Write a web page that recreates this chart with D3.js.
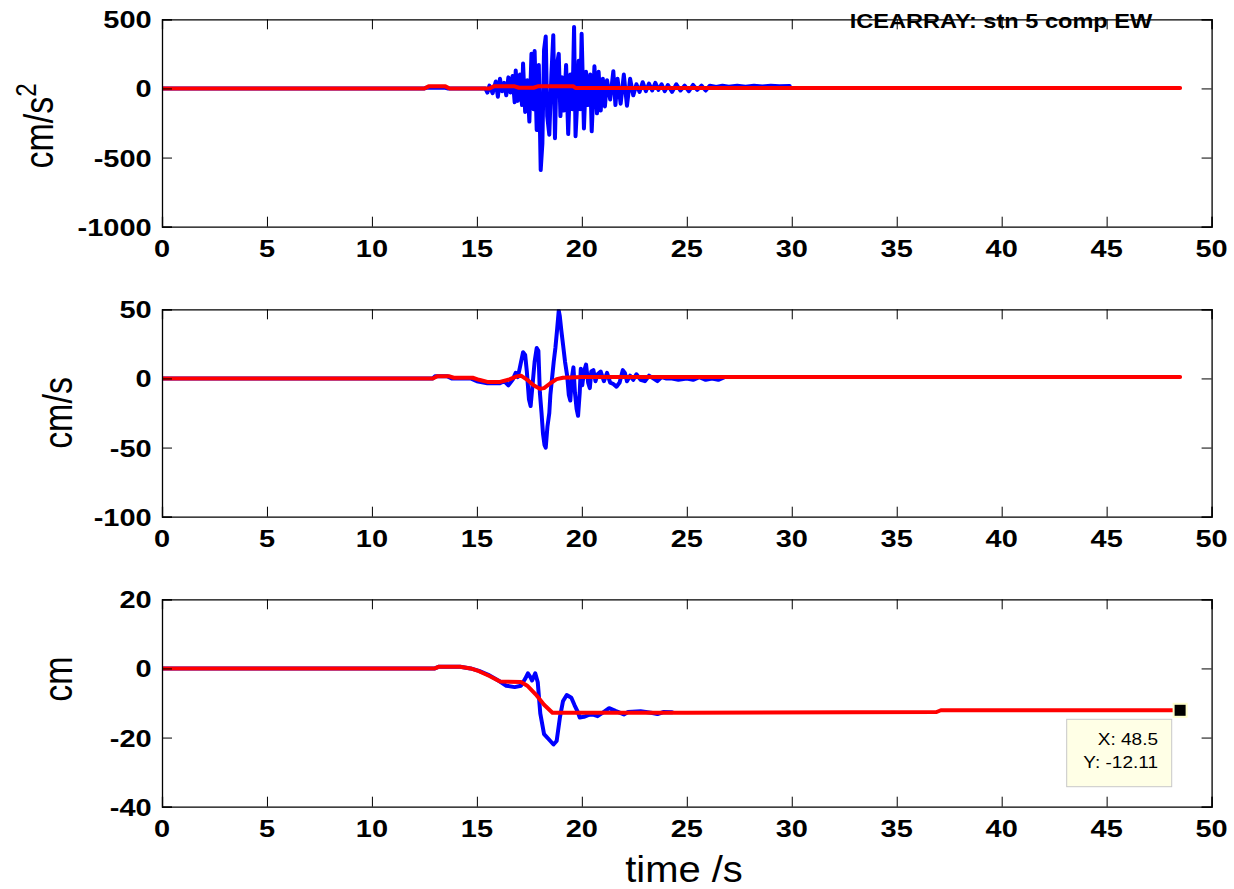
<!DOCTYPE html>
<html>
<head>
<meta charset="utf-8">
<script src="https://cdn.jsdelivr.net/npm/d3@7"></script>
<style>
  body { margin: 0; background: #ffffff; }
  svg { display: block; font-family: "Liberation Sans", Arial, sans-serif; }
</style>
</head>
<body>
<svg id="chart" width="1234" height="889"></svg>
<script>

//*************************************************//
// Data (time in s)
//*************************************************//

var timeTicks = [0, 5, 10, 15, 20, 25, 30, 35, 40, 45, 50];

// Acceleration, cm/s^2
var accTicks = [-1000, -500, 0, 500];
var accRaw = [[0,0],[12.5,0],[12.6,5],[13.5,5],[13.6,0],[15.4,0],
  [15.5,-30],[15.6,20],[15.75,-35],[15.9,50],[16.0,-60],[16.1,70],[16.2,-20],[16.3,40],[16.4,-50],
  [16.5,80],[16.6,-30],[16.7,90],[16.8,-100],[16.85,130],[16.95,-90],[17.05,100],[17.15,-120],
  [17.2,180],[17.3,-170],[17.4,60],[17.5,-240],[17.6,250],[17.7,-150],[17.75,270],[17.85,-300],
  [17.95,170],[18.04,-590],[18.12,-400],[18.2,280],[18.28,375],[18.35,-200],[18.45,-335],[18.55,100],
  [18.64,385],[18.72,-360],[18.8,160],[18.9,250],[18.98,-200],[19.05,80],[19.15,-160],[19.25,170],
  [19.35,-330],[19.45,100],[19.55,-150],[19.63,445],[19.7,-345],[19.78,-100],[19.85,200],[19.92,-150],
  [19.99,395],[20.1,-290],[20.2,120],[20.3,-120],[20.4,100],[20.47,-310],[20.6,160],[20.72,-180],
  [20.8,120],[20.9,-160],[21.0,70],[21.1,-130],[21.2,60],[21.35,-80],[21.5,125],[21.6,-120],[21.7,70],
  [21.85,-110],[22.0,100],[22.15,-125],[22.3,70],[22.45,-50],[22.6,30],[22.75,-25],[22.9,45],
  [23.05,-20],[23.2,35],[23.35,-15],[23.5,40],[23.65,-10],[23.8,30],[23.95,-20],[24.1,25],[24.3,-25],
  [24.5,30],[24.7,-15],[24.9,20],[25.1,-20],[25.3,25],[25.5,-10],[25.7,20],[25.9,-15],[26.1,20],
  [26.4,10],[26.7,20],[27.0,12],[27.4,20],[27.8,12],[28.2,20],[28.6,14],[29.0,20],[29.4,15],[29.9,18]];
var accFilt = [[0,0],[12.5,0],[12.7,15],[13.5,15],[13.7,0],[15.6,0],[15.8,15],[16.8,15],[17.0,5],
  [17.7,5],[17.9,15],[19.6,15],[19.7,3],[48.5,3]];

// Velocity, cm/s
var velTicks = [-100, -50, 0, 50];
var velRaw = [[0,0],[12.9,0],[13.0,1.5],[13.6,1.5],[13.8,0],[14.7,0],[15.0,-2],[15.5,-3.5],[16.1,-3.5],
  [16.3,-2],[16.5,-5],[16.7,-1],[16.85,4],[16.95,1],[17.05,8],[17.2,19],[17.3,17],[17.38,5],[17.48,-15],
  [17.56,-20],[17.65,-5],[17.75,12],[17.85,22],[17.93,20],[18.0,-10],[18.08,-25],[18.15,-40],[18.22,-48],
  [18.28,-50],[18.36,-35],[18.45,-25],[18.5,-12],[18.58,0],[18.66,12],[18.74,22],[18.82,35],[18.9,49],
  [18.95,45],[19.02,35],[19.1,25],[19.2,12],[19.3,2],[19.38,-12],[19.45,-16],[19.52,0],[19.6,8],
  [19.67,-10],[19.75,-22],[19.82,-27],[19.9,-10],[19.95,7],[20.02,-5],[20.1,5],[20.2,10],[20.3,-3],
  [20.38,-7],[20.45,5],[20.55,6],[20.65,-2],[20.75,3],[20.9,5],[21.05,-2],[21.2,4],[21.35,-3],[21.5,-4],
  [21.65,-6],[21.8,-3],[21.95,6],[22.05,4],[22.15,-2],[22.3,2],[22.45,-1],[22.6,3],[22.8,-1],[23.0,-2],
  [23.2,2],[23.4,0],[23.6,-2],[23.8,1],[24.0,0],[24.3,0],[24.6,-1],[25.0,0],[25.3,-1],[25.6,1],
  [25.9,-1],[26.2,0],[26.5,-1],[26.8,1]];
var velFilt = [[0,0],[12.9,0],[13.1,1.5],[13.7,1.5],[13.9,0.5],[14.8,0.5],[15.1,-1],[15.5,-2.5],
  [16.1,-2.5],[16.5,-1],[16.9,1.5],[17.1,2],[17.4,-1],[17.7,-5],[18.0,-7.5],[18.2,-7],[18.5,-3.5],
  [18.8,-0.5],[19.1,0.5],[20,1],[48.5,1]];

// Displacement, cm
var dispTicks = [-40, -20, 0, 20];
var dispRaw = [[0,0],[13.0,0],[13.2,0.5],[14.2,0.5],[14.7,0],[15.1,-0.7],[15.6,-2],[16.1,-3.8],
  [16.4,-5],[16.8,-5.4],[17.1,-5],[17.3,-3],[17.43,-1.4],[17.55,-2.5],[17.63,-3.5],[17.78,-1.4],
  [17.9,-4],[18.02,-13],[18.2,-19],[18.5,-21],[18.65,-22],[18.8,-21],[18.96,-14],[19.1,-9.5],
  [19.28,-7.7],[19.5,-8.5],[19.65,-10.6],[19.8,-12.5],[19.9,-14.2],[20.1,-14],[20.3,-13.5],[20.5,-13.3],
  [20.75,-13.8],[21.0,-12.8],[21.3,-11.5],[21.6,-12.3],[22.0,-13.3],[22.2,-12.6],[22.8,-12.4],
  [23.3,-12.8],[23.6,-13.2],[23.9,-12.6],[24.3,-12.7]];
var dispFilt = [[0,0],[13.0,0],[13.2,0.5],[14.2,0.5],[14.7,0],[15.1,-0.8],[15.6,-2.2],[16.1,-3.8],
  [17.1,-3.9],[17.4,-5],[17.8,-7.5],[18.2,-10.5],[18.6,-12.8],[25,-12.8],[36.9,-12.6],[37.1,-12.1],
  [48.5,-12.11]];

// Data tip on the last displacement sample
var tipX = 48.5;
var tipY = -12.11;

var titleText = "ICEARRAY: stn 5 comp EW";


//*************************************************//
// Layout
//*************************************************//

var svg = d3.select('#chart');

var plotLeft = 162, plotRight = 1211.6, plotHeight = 207.4;
var tickLen = 10;

var panels = [
    { top: 19.3,  ticks: accTicks,  raw: accRaw,  filt: accFilt,  unit: 'cm/s', sup: '2', labelX: 53, labelY: 126 },
    { top: 309.3, ticks: velTicks,  raw: velRaw,  filt: velFilt,  unit: 'cm/s', sup: '',  labelX: 72, labelY: 413 },
    { top: 599.3, ticks: dispTicks, raw: dispRaw, filt: dispFilt, unit: 'cm',   sup: '',  labelX: 72, labelY: 679 }
];

var xScale = d3.scaleLinear().domain([0, 50]).range([plotLeft, plotRight]);

// Title is drawn first: the box edge runs through it
svg.append('text')
    .attr('transform', 'translate(1001,28.3) scale(1.21,1)')
    .attr('text-anchor', 'middle')
    .attr('font-size', '19.5px')
    .attr('font-weight', 'bold')
    .text(titleText);

panels.forEach(function(p, k) {

    var yScale = d3.scaleLinear()
        .domain([p.ticks[0], p.ticks[p.ticks.length - 1]])
        .range([p.top + plotHeight, p.top]);

    var bottom = p.top + plotHeight;

    /*****************************/
    // Lines
    /*****************************/

    svg.append('clipPath').attr('id', 'clip' + k)
      .append('rect')
        .attr('x', plotLeft).attr('y', p.top)
        .attr('width', plotRight - plotLeft).attr('height', plotHeight);

    var line = d3.line()
        .x(function(d) { return xScale(d[0]); })
        .y(function(d) { return yScale(d[1]); });

    var g = svg.append('g').attr('clip-path', 'url(#clip' + k + ')');

    g.append('path').datum(p.raw)
        .attr('d', line)
        .attr('fill', 'none')
        .attr('stroke', '#0000ff')
        .attr('stroke-width', 4)
        .attr('stroke-linejoin', 'round')
        .attr('stroke-linecap', 'round');

    g.append('path').datum(p.filt)
        .attr('d', line)
        .attr('fill', 'none')
        .attr('stroke', '#ff0000')
        .attr('stroke-width', 4)
        .attr('stroke-linejoin', 'round')
        .attr('stroke-linecap', 'round');

    /*****************************/
    // Box with inward ticks
    /*****************************/

    svg.append('g').attr('transform', 'translate(0,' + bottom + ')')
        .call(d3.axisBottom(xScale).tickValues(timeTicks).tickSize(-tickLen).tickFormat(''));
    svg.append('g').attr('transform', 'translate(0,' + p.top + ')')
        .call(d3.axisTop(xScale).tickValues(timeTicks).tickSize(-tickLen).tickFormat(''));
    svg.append('g').attr('transform', 'translate(' + plotLeft + ',0)')
        .call(d3.axisLeft(yScale).tickValues(p.ticks).tickSize(-tickLen).tickFormat(''));
    svg.append('g').attr('transform', 'translate(' + plotRight + ',0)')
        .call(d3.axisRight(yScale).tickValues(p.ticks).tickSize(-tickLen).tickFormat(''));

    svg.selectAll('.domain').attr('stroke', '#000').attr('stroke-width', 1.3);
    svg.selectAll('.tick line').attr('stroke', '#000').attr('stroke-width', 1);

    /*****************************/
    // Tick labels (wide bold digits)
    /*****************************/

    svg.selectAll(null).data(timeTicks).enter().append('text')
        .attr('transform', function(d) {
            return 'translate(' + xScale(d) + ',' + (bottom + 30) + ') scale(1.26,1)';
        })
        .attr('text-anchor', 'middle')
        .attr('font-size', '23px')
        .attr('font-weight', 'bold')
        .text(function(d) { return d; });

    svg.selectAll(null).data(p.ticks).enter().append('text')
        .attr('transform', function(d) {
            return 'translate(151.7,' + (yScale(d) + 9) + ') scale(1.26,1)';
        })
        .attr('text-anchor', 'end')
        .attr('font-size', '23px')
        .attr('font-weight', 'bold')
        .text(function(d) { return d; });

    // Unit label
    var ylab = svg.append('text')
        .attr('transform', 'translate(' + p.labelX + ',' + p.labelY + ') scale(1.2,1) rotate(-90)')
        .attr('text-anchor', 'middle')
        .attr('font-size', '34px')
        .text(p.unit);
    if (p.sup) {
        ylab.append('tspan')
            .attr('dy', -14)
            .attr('font-size', '24px')
            .text(p.sup);
    }

    // Data tip in the last panel
    if (k == 2) {
        var mx = xScale(tipX), my = yScale(tipY);
        svg.append('rect')
            .attr('x', 1066.7).attr('y', 719.3)
            .attr('width', 105).attr('height', 67.4)
            .attr('fill', '#ffffe6')
            .attr('stroke', '#c8c8c8')
            .attr('stroke-width', 1);
        svg.append('rect')
            .attr('x', mx - 6.5).attr('y', my - 6.5)
            .attr('width', 13).attr('height', 13)
            .attr('fill', '#000')
            .attr('stroke', '#ffffcc')
            .attr('stroke-width', 2);
        svg.append('text')
            .attr('transform', 'translate(1158,745) scale(1.12,1)')
            .attr('text-anchor', 'end')
            .attr('font-size', '17px')
            .text('X: ' + tipX);
        svg.append('text')
            .attr('transform', 'translate(1158,768.3) scale(1.12,1)')
            .attr('text-anchor', 'end')
            .attr('font-size', '17px')
            .text('Y: ' + tipY);
    }
});

// Shared time label
svg.append('text')
    .attr('transform', 'translate(684,881.7) scale(1.08,1)')
    .attr('text-anchor', 'middle')
    .attr('font-size', '37px')
    .text('time /s');

</script>
</body>
</html>
